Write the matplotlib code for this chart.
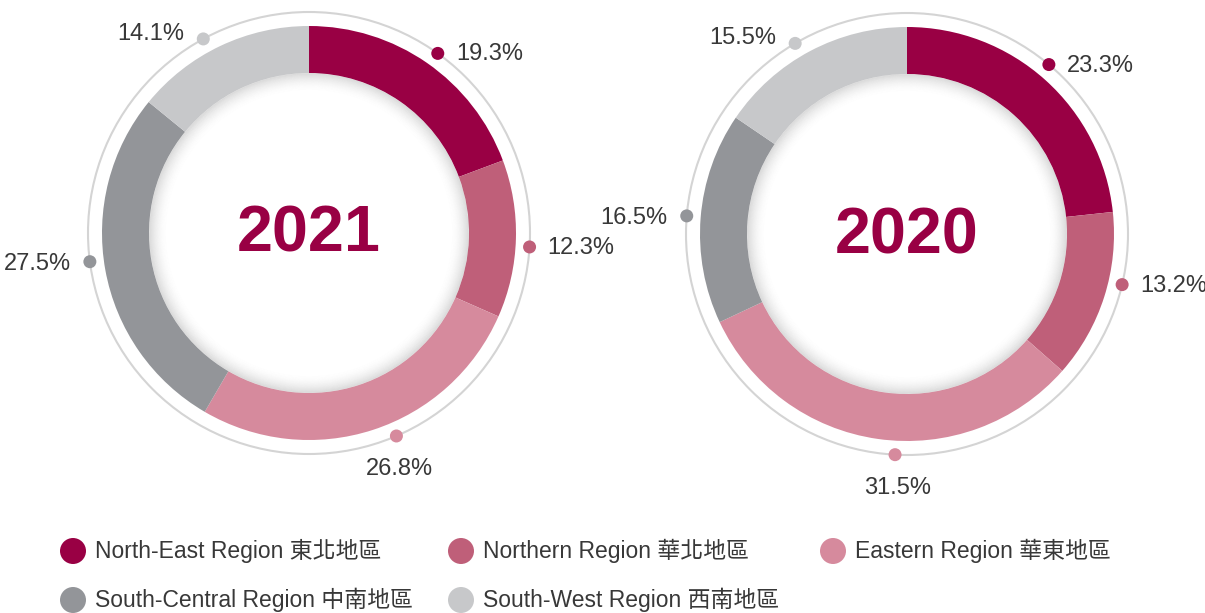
import numpy as np
import matplotlib
matplotlib.use("Agg")
import matplotlib.pyplot as plt
from matplotlib.patches import Circle, Wedge

# ---------------- data ----------------
regions = ["North-East Region 東北地區", "Northern Region 華北地區", "Eastern Region 華東地區",
           "South-Central Region 中南地區", "South-West Region 西南地區"]
years = ["2021", "2020"]
share_2021 = [19.3, 12.3, 26.8, 27.5, 14.1]
share_2020 = [23.3, 13.2, 31.5, 16.5, 15.5]

# ---------------- style ----------------
colors = ["#990044", "#BF5F79", "#D68A9D", "#939599", "#C7C8CA"]
ring_color = "#D4D4D4"
text_color = "#383838"
title_color = "#990044"
# small angular nudges (degrees) of the label dots from each slice's mid-angle
dot_nudge_2021 = [0.9, 2.0, -5.3, 2.8, -3.2]
dot_nudge_2020 = [-2.0, -4.4, -5.0, 0.2, -2.5]

W, H = 1205, 613
fig = plt.figure(figsize=(W / 100, H / 100), dpi=100)
ax = fig.add_axes([0, 0, 1, 1])

latin = "Liberation Sans"
legend_family = ["Liberation Sans", "Noto Sans CJK TC"]

centers = [(309, 233), (907, 234)]  # pixel coords, y from top
r_out, width, r_thin = 207, 47, 221


def up(y):
    return H - y


for (cx, cy), year, vals, nudge in zip(centers, years, [share_2021, share_2020],
                                       [dot_nudge_2021, dot_nudge_2020]):
    cyu = up(cy)
    ax.pie(vals, colors=colors, startangle=90, counterclock=False, radius=r_out,
           center=(cx, cyu), wedgeprops=dict(width=width, linewidth=0), frame=True)
    # thin outer circle
    ax.add_patch(Circle((cx, cyu), r_thin, fill=False, ec=ring_color, lw=1.5, zorder=1))
    # inner soft shadow
    r_in = r_out - width
    n = 18
    for i in range(n):
        a = 0.25 * (1 - i / n) ** 2
        ax.add_patch(Wedge((cx, cyu), r_in - i, 0, 360, width=1.2, color="#808080",
                           alpha=a, lw=0, zorder=3))
    # year title
    ax.text(cx, cyu - 2, year, ha="center", va="center", fontsize=46.5, fontweight="bold",
            color=title_color, family=latin, zorder=5)
    # labels with dots
    cum = np.cumsum([0] + vals)
    for i, v in enumerate(vals):
        mid = (cum[i] + cum[i + 1]) / 2 / 100 * 360
        ang = mid + nudge[i]
        t = np.deg2rad(ang)
        px, py = cx + r_thin * np.sin(t), cyu + r_thin * np.cos(t)
        ax.add_patch(Circle((px, py), 6.5, color=colors[i], lw=0, zorder=6))
        lab = f"{v:.1f}%"
        if 140 < ang < 220:
            ax.text(px + 3, py - 33, lab, ha="center", va="center", fontsize=17,
                    color=text_color, family=latin)
        elif ang < 180:
            ax.text(px + 18, py - 1, lab, ha="left", va="center", fontsize=17,
                    color=text_color, family=latin)
        else:
            off = 5 if ang > 300 else -2
            ax.text(px - 19, py + off, lab, ha="right", va="center", fontsize=17,
                    color=text_color, family=latin)

# ---------------- legend ----------------
leg_x = [73, 461, 833]
leg_y = [551, 600]
for i, name in enumerate(regions):
    col, row = i % 3, i // 3
    x, y = leg_x[col], up(leg_y[row])
    ax.add_patch(Circle((x, y), 13, color=colors[i], lw=0))
    ax.text(x + 22, y, name, ha="left", va="center", fontsize=16.5, color=text_color,
            family=legend_family)

ax.set_xlim(0, W)
ax.set_ylim(0, H)
ax.axis("off")
fig.savefig("out.png", dpi=100)
